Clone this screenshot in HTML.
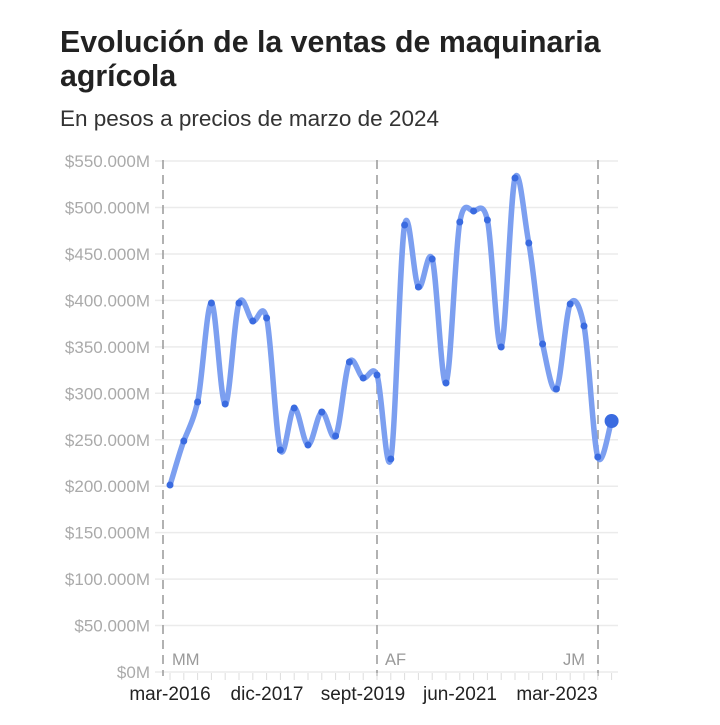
<!DOCTYPE html>
<html><head><meta charset="utf-8"><style>
body{margin:0;background:#fff;width:720px;height:720px;overflow:hidden;font-family:"Liberation Sans",sans-serif}
</style></head><body>
<svg width="720" height="720" xmlns="http://www.w3.org/2000/svg" font-family="Liberation Sans, sans-serif">
<text x="60" y="52" font-size="30.3" font-weight="bold" fill="#222">Evolución de la ventas de maquinaria</text>
<text x="60" y="86" font-size="30.3" font-weight="bold" fill="#222">agrícola</text>
<text x="60" y="126" font-size="22.5" fill="#333">En pesos a precios de marzo de 2024</text>
<g id="grid" stroke="#ebebeb" stroke-width="1.5"></g>
<g id="ylab" font-size="17" fill="#aaa" text-anchor="end"></g>
<g stroke="#999" stroke-width="1.5" stroke-dasharray="9,6">
<line x1="163" y1="160" x2="163" y2="676"/><line x1="377" y1="160" x2="377" y2="676"/><line x1="598" y1="160" x2="598" y2="676"/>
</g>
<g id="ticks" stroke="#ddd" stroke-width="1"></g>
<g font-size="16.5" fill="#999"><text x="172" y="665">MM</text><text x="385" y="665">AF</text><text x="563" y="665">JM</text></g>
<g font-size="19" fill="#222" text-anchor="middle"><text x="170" y="700">mar-2016</text><text x="267" y="700">dic-2017</text><text x="363" y="700">sept-2019</text><text x="460" y="700">jun-2021</text><text x="557" y="700">mar-2023</text></g>
<path id="line" fill="none" stroke="#7c9ff0" stroke-width="5.5" stroke-linecap="round" stroke-linejoin="round"/>
<g id="dots" fill="#3a6be0"></g>
</svg>
<script>
var ns="http://www.w3.org/2000/svg";
function el(t,a,p){var e=document.createElementNS(ns,t);for(var k in a)e.setAttribute(k,a[k]);document.getElementById(p).appendChild(e);return e;}
var labs=["$0M","$50.000M","$100.000M","$150.000M","$200.000M","$250.000M","$300.000M","$350.000M","$400.000M","$450.000M","$500.000M","$550.000M"];
for(var k=0;k<12;k++){var y=672-k*46.45;el("line",{x1:155,x2:618,y1:y,y2:y},"grid");var t=el("text",{x:150,y:y+6},"ylab");t.textContent=labs[k];}
var ys=[485,441,402,303,404,303,321,318,450,408,445,412,436,362,378,375,459,225,287,259,383,222,211,220,347,178,243,344,389,304,326,457,421];
var pts=ys.map(function(y,i){return [170+i*13.8,y];});
for(var i=0;i<pts.length;i++){el("line",{x1:pts[i][0],x2:pts[i][0],y1:673,y2:680},"ticks");}
var d="M"+pts[0][0]+","+pts[0][1];
for(var i=0;i<pts.length-1;i++){var p0=pts[Math.max(0,i-1)],p1=pts[i],p2=pts[i+1],p3=pts[Math.min(pts.length-1,i+2)];
var c1=[p1[0]+(p2[0]-p0[0])/6,p1[1]+(p2[1]-p0[1])/7],c2=[p2[0]-(p3[0]-p1[0])/6,p2[1]-(p3[1]-p1[1])/7];
d+=" C"+c1[0]+","+c1[1]+" "+c2[0]+","+c2[1]+" "+p2[0]+","+p2[1];}
document.getElementById("line").setAttribute("d",d);
for(var i=0;i<pts.length;i++){el("circle",{cx:pts[i][0],cy:pts[i][1],r:i==pts.length-1?7:3.5},"dots");}
</script>
</body></html>
